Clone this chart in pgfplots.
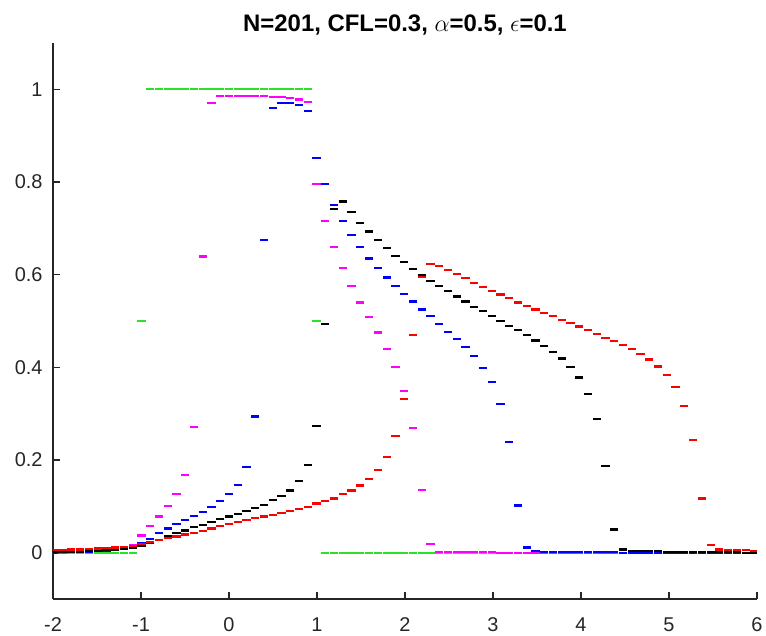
\documentclass[border=0pt]{standalone}
\usepackage{fontspec}
\setmainfont{Liberation Sans}
\usepackage{pgfplots}
\usepackage{pgfplotstable}
\pgfplotsset{compat=1.18}
\definecolor{axgray}{rgb}{0.15,0.15,0.15}
\definecolor{mgreen}{RGB}{40,225,40}
\definecolor{mmag}{rgb}{1,0,1}
\definecolor{mblue}{rgb}{0,0,1}
\definecolor{mred}{rgb}{1,0,0}

% x = cell centres (dx = 20/201); g = initial data, m/b/k/r = later times
\pgfplotstableread{
x      g   m     b     k     r
-1.990 0   0.000 0.000 0.001 0.006
-1.891 0   0.000 0.001 0.001 0.006
-1.791 0   0.001 0.001 0.002 0.007
-1.692 0   0.001 0.002 0.002 0.007
-1.592 0   0.002 0.002 0.003 0.008
-1.493 0   0.003 0.003 0.004 0.009
-1.393 0   0.004 0.004 0.005 0.010
-1.294 0   0.006 0.006 0.006 0.011
-1.194 0   0.009 0.008 0.008 0.013
-1.095 0   0.016 0.012 0.011 0.015
-0.995 0.5 0.037 0.020 0.015 0.019
-0.896 1   0.058 0.030 0.020 0.023
-0.796 1   0.078 0.042 0.028 0.027
-0.697 1   0.100 0.052 0.035 0.031
-0.597 1   0.127 0.062 0.042 0.035
-0.498 1   0.168 0.070 0.048 0.039
-0.398 1   0.272 0.079 0.055 0.043
-0.299 1   0.639 0.088 0.060 0.047
-0.199 1   0.971 0.099 0.066 0.052
-0.100 1   0.985 0.111 0.072 0.057
 0.000 1   0.986 0.126 0.078 0.062
 0.100 1   0.986 0.146 0.084 0.066
 0.199 1   0.986 0.185 0.090 0.070
 0.299 1   0.986 0.294 0.096 0.074
 0.398 1   0.985 0.675 0.103 0.078
 0.498 1   0.984 0.960 0.113 0.082
 0.597 1   0.983 0.970 0.122 0.086
 0.697 1   0.981 0.970 0.134 0.090
 0.796 1   0.978 0.966 0.154 0.094
 0.896 1   0.973 0.954 0.190 0.099
 0.995 0.5 0.795 0.851 0.274 0.106
 1.095 0   0.716 0.795 0.494 0.111
 1.194 0   0.659 0.751 0.741 0.117
 1.294 0   0.615 0.716 0.758 0.126
 1.393 0   0.576 0.686 0.735 0.134
 1.493 0   0.540 0.659 0.712 0.145
 1.592 0   0.508 0.635 0.693 0.159
 1.692 0   0.475 0.615 0.674 0.178
 1.791 0   0.440 0.594 0.657 0.206
 1.891 0   0.401 0.576 0.641 0.251
 1.990 0   0.349 0.559 0.627 0.332
 2.090 0   0.269 0.542 0.613 0.470
 2.189 0   0.136 0.525 0.599 0.595
 2.289 0   0.018 0.510 0.587 0.623
 2.388 0   0.002 0.494 0.576 0.618
 2.488 0   0.002 0.477 0.564 0.610
 2.587 0   0.001 0.462 0.553 0.601
 2.687 0   0.001 0.444 0.542 0.592
 2.786 0   0.001 0.424 0.531 0.582
 2.886 0   0.001 0.399 0.521 0.574
 2.985 0   0.001 0.368 0.510 0.565
 3.085 0   0.000 0.320 0.500 0.557
 3.184 0   0.000 0.238 0.490 0.549
 3.284 0   0.000 0.102 0.480 0.540
 3.383 0   0.000 0.011 0.469 0.533
 3.483 0   0.000 0.003 0.458 0.525
 3.582 0   0.000 0.002 0.446 0.518
 3.682 0   0.000 0.002 0.433 0.510
 3.781 0   0.000 0.002 0.419 0.503
 3.881 0   0.000 0.001 0.401 0.495
 3.980 0   0.000 0.001 0.378 0.488
 4.080 0   0.000 0.001 0.343 0.480
 4.179 0   0.000 0.001 0.288 0.472
 4.279 0   0.000 0.001 0.187 0.464
 4.378 0   0.000 0.001 0.050 0.457
 4.478 0   0.000 0.000 0.007 0.448
 4.577 0   0.000 0.000 0.004 0.439
 4.677 0   0.000 0.000 0.003 0.428
 4.776 0   0.000 0.000 0.003 0.417
 4.876 0   0.000 0.000 0.003 0.402
 4.975 0   0.000 0.000 0.002 0.383
 5.075 0   0.000 0.000 0.002 0.357
 5.174 0   0.000 0.000 0.002 0.317
 5.274 0   0.000 0.000 0.002 0.244
 5.373 0   0.000 0.000 0.001 0.117
 5.473 0   0.000 0.000 0.001 0.017
 5.572 0   0.000 0.000 0.001 0.007
 5.672 0   0.000 0.000 0.001 0.006
 5.771 0   0.000 0.000 0.001 0.005
 5.871 0   0.000 0.000 0.000 0.005
 5.970 0   0.000 0.000 0.000 0.004
}\sol

\begin{document}
\begin{tikzpicture}
\path[use as bounding box] (-26.5bp,-18.5bp) rectangle (356.5bp,299.5bp);
\begin{axis}[
    at={(0,0)}, anchor=south west,
    scale only axis,
    width=352bp, height=278bp,
    xmin=-2, xmax=6, ymin=-0.1, ymax=1.1,
    axis lines*=left,
    axis line style={-, draw=axgray, line width=0.6bp},
    xtick={-2,-1,0,1,2,3,4,5,6},
    ytick={0,0.2,0.4,0.6,0.8,1},
    tick align=inside,
    major tick length=3.4bp,
    tick style={draw=axgray, line width=0.6bp},
    tick label style={font=\fontsize{10}{12}\selectfont, text=axgray},
    xticklabel style={yshift=-6bp},
    yticklabel style={xshift=-1.7bp},
    /pgf/number format/assume math mode=true,
    clip marker paths=true,
    every axis plot/.append style={only marks, mark=-, mark size=2.05bp, line width=1.1bp},
]
\addplot[mgreen] table[x=x, y=g] {\sol};
\addplot[mmag]   table[x=x, y=m] {\sol};
\addplot[mblue]  table[x=x, y=b] {\sol};
\addplot[black]  table[x=x, y=k] {\sol};
\addplot[mred]   table[x=x, y=r] {\sol};
\end{axis}
\node[anchor=base, font=\fontsize{12}{14}\selectfont\bfseries] at (176bp,283.5bp)
    {N=201, CFL=0.3, $\alpha$=0.5, $\epsilon$=0.1};
\end{tikzpicture}
\end{document}
